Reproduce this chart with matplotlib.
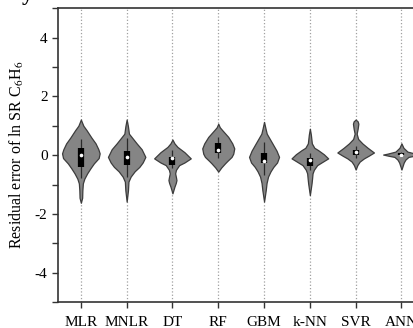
import matplotlib
matplotlib.use("Agg")
import matplotlib.pyplot as plt
import numpy as np

# Model names on the x axis
models = ["MLR", "MNLR", "DT", "RF", "GBM", "k-NN", "SVR", "ANN"]

# Violin outlines: residual value -> half width (px)
mlr_y = [1.21, 1.0, 0.85, 0.6, 0.4, 0.2, 0.06, -0.1, -0.28, -0.45, -0.62, -0.8, -0.96, -1.2, -1.45, -1.62]
mlr_w = [0, 2.5, 5.7, 10.5, 14.7, 17.5, 18.8, 17.8, 13.0, 9.5, 6.3, 3.5, 2.0, 1.5, 1.3, 0]
mnlr_y = [1.21, 1.0, 0.73, 0.4, 0.2, -0.06, -0.25, -0.4, -0.55, -0.73, -0.9, -1.2, -1.58]
mnlr_w = [0, 1.2, 2.3, 10.0, 15.0, 18.7, 16.0, 12.7, 8.0, 4.0, 1.8, 1.3, 0]
dt_y = [0.53, 0.4, 0.28, 0.1, -0.11, -0.25, -0.34, -0.5, -0.62, -0.75, -0.85, -0.95, -1.07, -1.30]
dt_w = [0, 2.0, 5.0, 12.0, 18.3, 12.0, 6.7, 3.5, 2.7, 3.5, 4.0, 3.3, 2.0, 0]
rf_y = [1.07, 0.95, 0.85, 0.62, 0.4, 0.23, 0.05, -0.06, -0.2, -0.28, -0.42, -0.56]
rf_w = [0, 1.5, 4.0, 10.0, 14.0, 16.0, 15.0, 13.3, 9.0, 6.7, 3.0, 0]
gbm_y = [1.13, 0.9, 0.73, 0.4, 0.15, -0.06, -0.25, -0.4, -0.55, -0.73, -0.95, -1.19, -1.58]
gbm_w = [0, 1.5, 2.7, 8.3, 12.5, 15.0, 13.0, 9.3, 6.5, 4.0, 2.5, 1.7, 0]
knn_y = [0.90, 0.7, 0.4, 0.25, 0.17, 0.03, -0.11, -0.22, -0.34, -0.5, -0.62, -0.8, -0.96, -1.36]
knn_w = [0, 1.0, 2.0, 4.5, 8.3, 14.0, 18.3, 13.0, 7.3, 4.0, 2.7, 2.2, 1.7, 0]
svr_y = [1.21, 1.15, 1.07, 0.9, 0.73, 0.55, 0.40, 0.25, 0.09, -0.02, -0.11, -0.22, -0.34, -0.49]
svr_w = [0, 2.0, 2.7, 2.0, 1.0, 2.5, 6.7, 12.0, 18.3, 13.0, 8.3, 4.0, 1.7, 0]
ann_y = [0.40, 0.25, 0.12, 0.05, 0.02, -0.02, -0.06, -0.15, -0.25, -0.49]
ann_w = [0, 2.0, 6.0, 14.0, 18.3, 13.0, 7.0, 4.0, 2.3, 0]

# Box parts: quartiles, medians, whisker ends
q1 = [-0.42, -0.34, -0.34, 0.06, -0.26, -0.37, 0.00, -0.01]
q3 = [0.25, 0.15, -0.06, 0.40, 0.08, -0.09, 0.17, 0.06]
medians = [0.02, -0.06, -0.11, 0.19, -0.19, -0.17, 0.09, 0.02]
whisk_lo = [-0.78, -0.73, -0.44, -0.10, -0.69, -0.50, -0.10, -0.05]
whisk_hi = [0.54, 0.57, 0.17, 0.62, 0.45, 0.07, 0.30, 0.10]

outlines = [(mlr_y, mlr_w), (mnlr_y, mnlr_w), (dt_y, dt_w), (rf_y, rf_w),
            (gbm_y, gbm_w), (knn_y, knn_w), (svr_y, svr_w), (ann_y, ann_w)]

plt.rcParams["font.family"] = ["Liberation Serif", "DejaVu Serif"]
plt.rcParams["mathtext.fontset"] = "stix"
plt.rcParams["axes.unicode_minus"] = False

fig = plt.figure(figsize=(4.14, 3.28), dpi=100)
ax = fig.add_axes([0.140, 0.079, 0.885, 0.896])

positions = np.arange(len(models))
px_per_unit = 45.8

# Build violin stats from the outlines
vpstats = []
widths = []
for (ys, ws), med in zip(outlines, medians):
    ys = np.array(ys[::-1], dtype=float)
    ws = np.array(ws[::-1], dtype=float)
    vpstats.append(dict(coords=ys, vals=ws, mean=med, median=med,
                        min=ys.min(), max=ys.max()))
    widths.append(2 * ws.max() / px_per_unit)

parts = ax.violin(vpstats, positions=positions, widths=widths,
                  showmeans=False, showextrema=False, showmedians=False)
for body in parts["bodies"]:
    body.set_facecolor("#858585")
    body.set_edgecolor("#3c3c3c")
    body.set_linewidth(0.9)
    body.set_alpha(1)
    body.set_zorder(2)

# Inner box plot
ax.vlines(positions, whisk_lo, whisk_hi, color="#2a2a2a", lw=0.9, zorder=3)
ax.vlines(positions, q1, q3, color="black", lw=4.5, zorder=4)
ax.scatter(positions, medians, s=7, color="white", zorder=5, lw=0)

ax.set_xlim(-0.5, len(models) - 0.5)
ax.set_ylim(-5, 5)
ax.set_xticks(positions)
ax.set_xticklabels(models)
ax.set_yticks([-4, -2, 0, 2, 4])
ax.set_yticks([-5, -3, -1, 1, 3, 5], minor=True)
ax.tick_params(axis="both", which="major", labelsize=11, length=4,
               width=1, direction="out", color="#333333")
ax.tick_params(axis="y", which="minor", length=4, width=1, color="#333333")
ax.tick_params(axis="x", pad=6)

ax.xaxis.grid(True, linestyle=":", color="#a0a0a0", lw=0.9)
ax.set_axisbelow(True)

for side in ["left", "bottom", "top"]:
    ax.spines[side].set_linewidth(1.2)
    ax.spines[side].set_color("#333333")

ax.set_ylabel(r"Residual error of ln SR C$_6$H$_6$", fontsize=11.5, labelpad=6)

# Cropped panel letter at the top-left corner
fig.text(0.066, 1.0, "y", fontsize=16, fontweight="bold", va="baseline",
         ha="center")

fig.savefig("out.png", dpi=100)
